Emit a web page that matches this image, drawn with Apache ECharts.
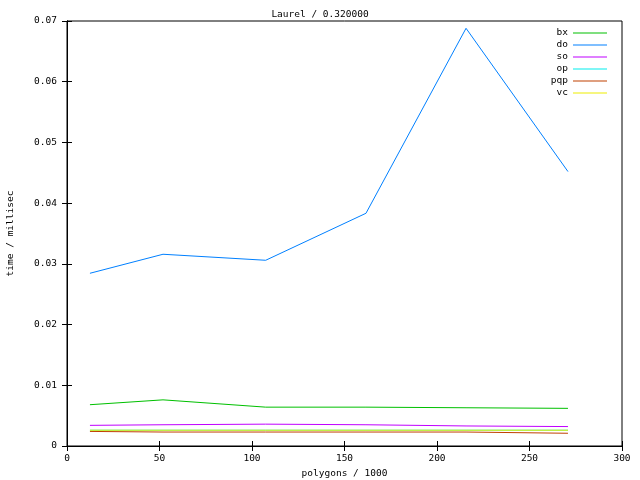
<!DOCTYPE html>
<html>
<head>
<meta charset="utf-8">
<script src="https://cdn.jsdelivr.net/npm/echarts@6/dist/echarts.min.js"></script>
<style>html,body{margin:0;padding:0;background:#fff}#c{width:640px;height:480px}</style>
</head>
<body>
<div id="c"></div>
<script>
var polygons = [12.4, 51.9, 107.4, 161.6, 215.7, 270.8];
var seriesNames = ['bx', 'do', 'so', 'op', 'pqp', 'vc'];
var bx  = [0.0068, 0.0076, 0.0064, 0.0064, 0.0063, 0.0062];
var dO  = [0.02845, 0.03158, 0.03059, 0.03833, 0.0688, 0.0452];
var so  = [0.0034, 0.0035, 0.0036, 0.0035, 0.0033, 0.0032];
var op  = [0.0026, 0.0026, 0.0026, 0.0026, 0.0026, 0.0026];
var pqp = [0.0024, 0.0023, 0.0023, 0.0023, 0.0023, 0.0021];
var vc  = [0.0026, 0.0026, 0.0026, 0.0026, 0.0026, 0.0026];
var xTicks = [0, 50, 100, 150, 200, 250, 300];
var yTicks = [0, 0.01, 0.02, 0.03, 0.04, 0.05, 0.06, 0.07];

var values = [bx, dO, so, op, pqp, vc];
var colors = ['#00c000', '#0080ff', '#c000ff', '#00eeee', '#c04000', '#eeee00'];
var FONT = 'DejaVu Sans Mono';
var FS = 9.5;

function pairs(ys) { return polygons.map(function (x, i) { return [x, ys[i]]; }); }

var chart = echarts.init(document.getElementById('c'), null, {renderer: 'canvas'});
var axisCommon = {
  axisLine: {show: true, lineStyle: {color: '#000', width: 1}},
  axisTick: {show: true, inside: true, length: 5, lineStyle: {color: '#000'}},
  splitLine: {show: false}
};
function xa(pos, labels) {
  return Object.assign({}, axisCommon, {
    type: 'value', position: pos, min: xTicks[0], max: xTicks[xTicks.length - 1], interval: 50,
    axisLabel: {show: labels, color: '#000', fontFamily: FONT, fontSize: FS, margin: 8},
    name: labels ? 'polygons / 1000' : '', nameLocation: 'middle', nameGap: 21,
    nameTextStyle: {color: '#000', fontFamily: FONT, fontSize: FS}
  });
}
function ya(pos, labels) {
  return Object.assign({}, axisCommon, {
    type: 'value', position: pos, min: yTicks[0], max: yTicks[yTicks.length - 1], interval: 0.01,
    axisLabel: {show: labels, color: '#000', fontFamily: FONT, fontSize: FS, margin: 10,
      formatter: function (v) { return String(Math.round(v * 100) / 100); }},
    name: labels ? 'time / millisec' : '', nameLocation: 'middle', nameGap: 51, nameRotate: 90,
    nameTextStyle: {color: '#000', fontFamily: FONT, fontSize: FS}
  });
}

chart.setOption({
  animation: false,
  backgroundColor: '#fff',
  title: {
    text: 'Laurel / 0.320000', left: 'center', top: 5,
    textStyle: {color: '#000', fontFamily: FONT, fontSize: FS, fontWeight: 'normal'}
  },
  grid: {left: 67, right: 18, top: 21, bottom: 34, show: true, borderColor: '#000', borderWidth: 1,
    containLabel: false, outerBoundsMode: 'none'},
  legend: {
    orient: 'vertical', right: 28, top: 23, align: 'right',
    icon: 'rect', itemWidth: 34, itemHeight: 1, itemGap: 2,
    textStyle: {color: '#000', fontFamily: FONT, fontSize: FS},
    data: seriesNames
  },
  xAxis: [xa('bottom', true), xa('top', false)],
  yAxis: [ya('left', true), ya('right', false)],
  series: seriesNames.map(function (n, i) {
    return {
      name: n, type: 'line', xAxisIndex: 0, yAxisIndex: 0,
      data: pairs(values[i]), symbol: 'none', showSymbol: false,
      lineStyle: {color: colors[i], width: 1}, itemStyle: {color: colors[i]}
    };
  })
});
</script>
</body>
</html>
